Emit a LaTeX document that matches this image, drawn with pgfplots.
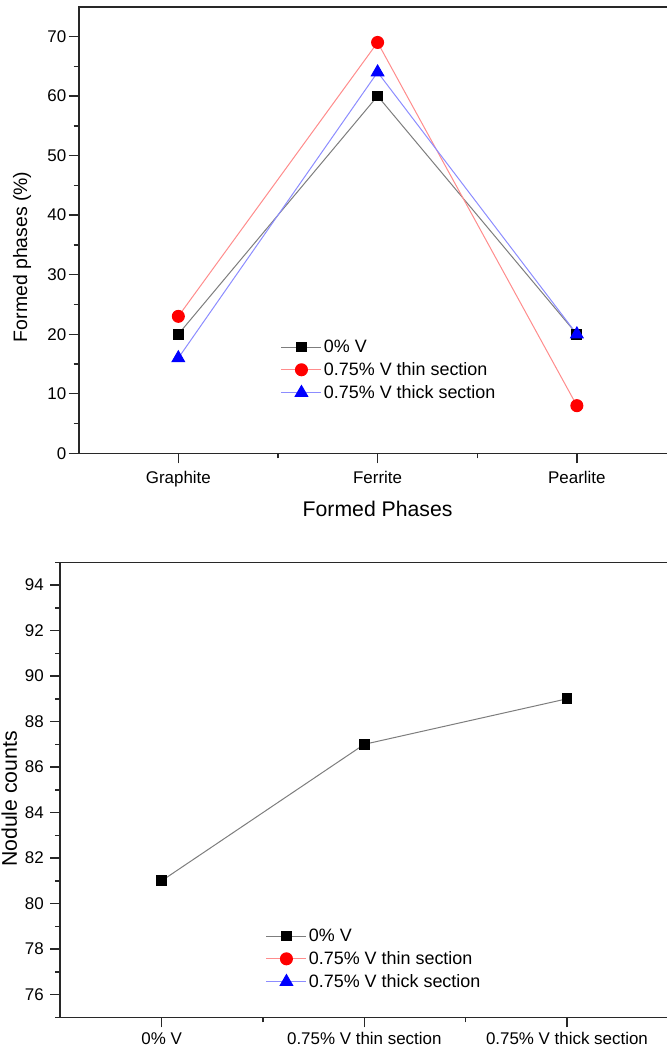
\documentclass[border=0pt]{standalone}
\usepackage{fontspec}
\setmainfont{Liberation Sans}
\usepackage{pgfplots}
\pgfplotsset{compat=1.18}
\definecolor{lgray}{RGB}{125,125,125}
\definecolor{lred}{RGB}{255,140,140}
\definecolor{lblue}{RGB}{140,140,255}
\definecolor{axc}{RGB}{40,40,40}
\pgfplotsset{
  mystyle/.style={
    scale only axis,
    xmin=-0.5, xmax=2.5,
    xtick={0,1,2}, minor xtick={0.5,1.5},
    xtick pos=bottom, ytick pos=left,
    tick align=outside,
    major tick length=10bp, minor tick length=5bp,
    axis line style={line width=1.6bp, axc},
    every tick/.style={line width=1.4bp, axc},
    tick label style={font=\fontsize{17}{20}\selectfont},
    /pgf/number format/assume math mode=true,
    label style={font=\fontsize{21.3}{25}\selectfont},
    ylabel style={anchor=center},
    legend image code/.code={\draw[mark repeat=2,mark phase=2] plot coordinates {(0bp,0bp)(20bp,0bp)(40bp,0bp)};},
    legend cell align=left,
    legend style={draw=none, fill=none, anchor=west, font=\fontsize{18}{21}\selectfont, row sep=4.5bp},
  }
}
\begin{document}
\begin{tikzpicture}
\begin{axis}[mystyle,
  at={(78.7bp,-453.3bp)}, anchor=south west,
  width=597.8bp, height=446.6bp,
  ymin=0, ymax=75,
  ytick={0,10,...,70}, minor ytick={5,15,...,65},
  xticklabels={Graphite,Ferrite,Pearlite},
  xticklabel style={yshift=-4bp},
  yticklabel style={xshift=1bp},
  xlabel={Formed Phases},
  xlabel style={at={(axis description cs:0.5,0)}, anchor=center, yshift=-56bp},
  ylabel={Formed phases (\%)},
  ylabel style={at={(axis description cs:0,0.44)}, yshift=56.7bp, font=\fontsize{19.5}{23}\selectfont},
  legend style={at={(axis description cs:0.333,0.1865)}},
]
\addplot[lgray, line width=1bp, mark=square*, mark size=4.9bp, mark options={fill=black, draw=black}] coordinates {(0,20)(1,60)(2,20)};
\addplot[lred, line width=1bp, mark=*, mark size=6bp, mark options={fill=red, draw=red}] coordinates {(0,23)(1,69)(2,8)};
\addplot[lblue, line width=1bp, mark=triangle*, mark size=7.2bp, mark options={fill=blue, draw=blue}] coordinates {(0,16)(1,64)(2,20)};
\legend{0\% V, 0.75\% V thin section, 0.75\% V thick section}
\end{axis}
\begin{axis}[mystyle,
  at={(60.3bp,-1017.3bp)}, anchor=south west,
  width=608bp, height=455bp,
  ymin=75, ymax=95,
  ytick={76,78,...,94}, minor ytick={75,77,...,95},
  xticklabels={0\% V, 0.75\% V thin section, 0.75\% V thick section},
  xticklabel style={yshift=-1.5bp},
  yticklabel style={xshift=-3bp},
  ylabel={Nodule counts},
  ylabel style={at={(axis description cs:0,0.48)}, yshift=51bp},
  legend style={at={(axis description cs:0.333,0.128)}},
]
\addplot[lgray, line width=1bp, mark=square*, mark size=4.9bp, mark options={fill=black, draw=black}] coordinates {(0,81)(1,87)(2,89)};
\addlegendentry{0\% V}
\addlegendimage{lred, line width=1bp, mark=*, mark size=6bp, mark options={fill=red, draw=red}}
\addlegendentry{0.75\% V thin section}
\addlegendimage{lblue, line width=1bp, mark=triangle*, mark size=7.2bp, mark options={fill=blue, draw=blue}}
\addlegendentry{0.75\% V thick section}
\end{axis}
\pgfresetboundingbox
\useasboundingbox (0,0) rectangle (667bp,-1050bp);
\end{tikzpicture}
\end{document}
